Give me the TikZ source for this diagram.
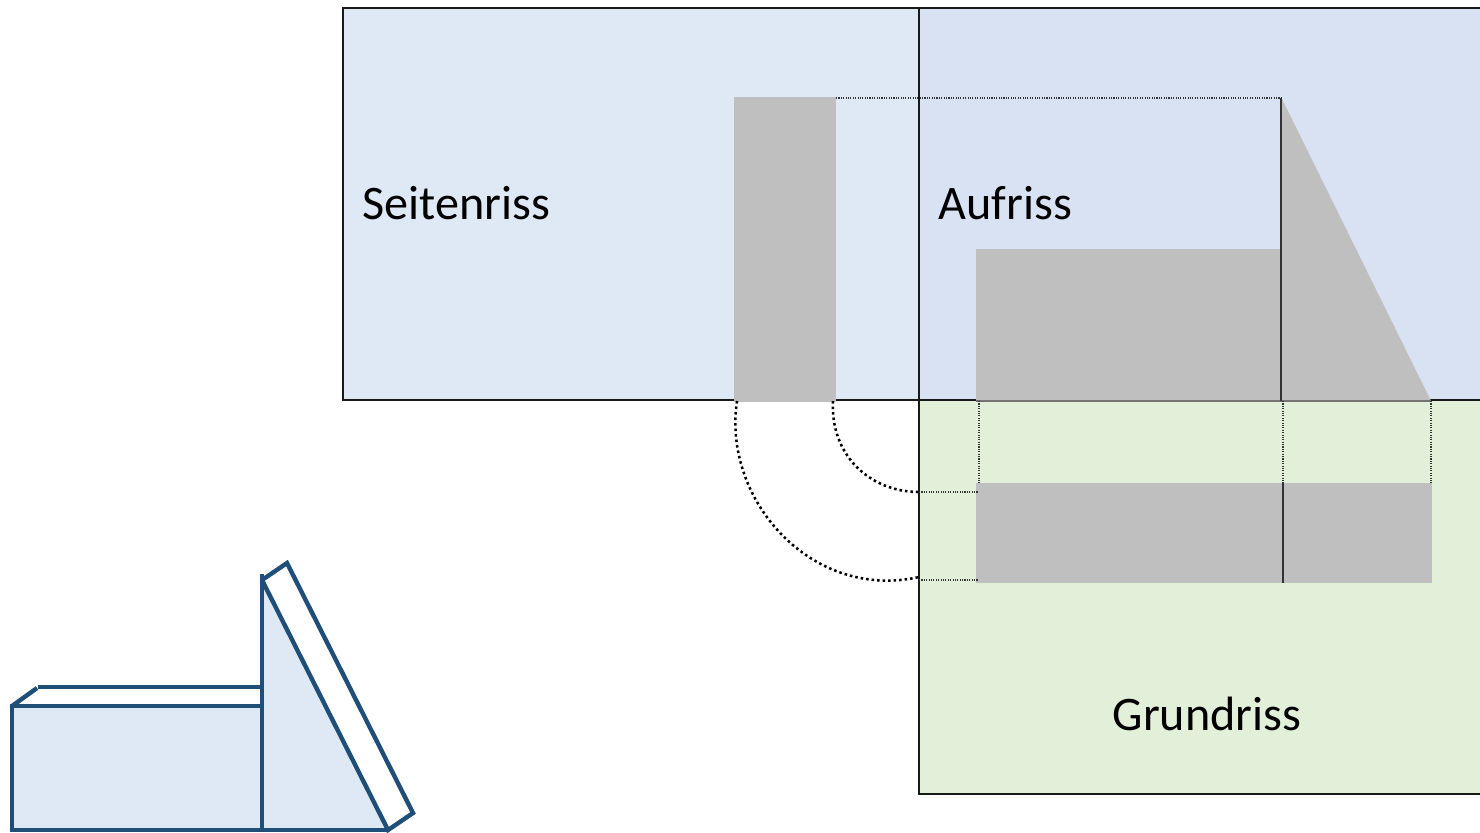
\documentclass[tikz,border=0pt]{standalone}
\usepackage{fontspec}
\setmainfont{Carlito}
\definecolor{sidefill}{HTML}{DEE9F5}
\definecolor{frontfill}{HTML}{D9E2F3}
\definecolor{planfill}{HTML}{E2EFD9}
\definecolor{greyfill}{HTML}{BFBFBF}
\definecolor{bodyline}{HTML}{1F4E79}
\tikzset{
  px/.style={x=0.01cm,y=-0.01cm},
  viewframe/.style={draw=black!90,line width=0.82pt},
  greypart/.style={fill=greyfill,draw=none},
  ridge/.style={draw=black!80,line width=0.5pt},
  guide/.style={draw=black!80,line width=0.38pt,dash pattern=on 0.32pt off 0.36pt},
  swing/.style={draw=black,line width=0.72pt,dash pattern=on 0.72pt off 0.85pt},
  bodyedge/.style={draw=bodyline,line width=1.25pt,line join=miter},
  label/.style={font=\fontsize{13.7pt}{16pt}\selectfont,anchor=base west,inner sep=0pt,text=black}
}
\begin{document}
\begin{tikzpicture}[px]
\useasboundingbox (0,0) rectangle (1480,832);
\clip (0,0) rectangle (1480,832);
% view panels
\draw[viewframe,fill=sidefill] (343,8) rectangle (919,400);
\draw[viewframe,fill=frontfill] (919,8) rectangle (1500,400);
\draw[viewframe,fill=planfill] (919,400) rectangle (1500,794);
% grey projections
\fill[greypart] (734,97) rectangle (836,402);
\fill[greypart] (976,249) -- (1281,249) -- (1281,97) -- (1431,401) -- (976,401) -- cycle;
\fill[greypart] (976,483) rectangle (1432,583);
\draw[draw=black!55,line width=0.3pt] (976,401) -- (1431,401);
% named points
\coordinate (sideTR) at (836,98);
\coordinate (frontApex) at (1281,98);
\coordinate (frontBase) at (1281,401);
\coordinate (planTick) at (1283,483);
\coordinate (planTickB) at (1283,583);
\coordinate (a1) at (979,401);
\coordinate (a2) at (979,483);
\coordinate (b1) at (1283,401);
\coordinate (c1) at (1431,401);
\coordinate (c2) at (1431,483);
\coordinate (innerS) at (833,401);
\coordinate (innerE) at (919,492);
\coordinate (innerP) at (978,492);
\coordinate (outerS) at (737,401);
\coordinate (outerE) at (919,577);
\coordinate (outerG) at (919,580);
\coordinate (outerP) at (978,580);
\draw[ridge] (frontApex) -- (frontBase);
\draw[ridge] (planTick) -- (planTickB);
\draw[guide] (sideTR) -- (frontApex);
\draw[guide] (a1) -- (a2);
\draw[guide] (b1) -- (planTick);
\draw[guide] (c1) -- (c2);
\draw[guide] (innerE) -- (innerP);
\draw[guide] (outerG) -- (outerP);
\draw[swing] (innerS) .. controls (830,455) and (870,492) .. (innerE);
\draw[swing] (outerS) .. controls (722,500) and (812,601) .. (outerE);
% labels
\node[label] (seiten) at (362,219.5) {Seitenriss};
\node[label] (auf) at (938,219.5) {Aufriss};
\node[label] (grund) at (1112,730.5) {Grundriss};
% solid body
\fill[sidefill] (12,706) -- (262,706) -- (262,580) -- (388,830) -- (12,830) -- cycle;
\draw[bodyedge] (12,706) rectangle (262,830);
\draw[bodyedge] (262,574) -- (262,830) -- (388,830);
\draw[bodyedge] (262,580) -- (388,830) -- (413,813) -- (287,563) -- (262,580);
\draw[bodyedge] (38,687) -- (262,687);
\draw[bodyedge] (12,706) -- (37,688);
\end{tikzpicture}
\end{document}
